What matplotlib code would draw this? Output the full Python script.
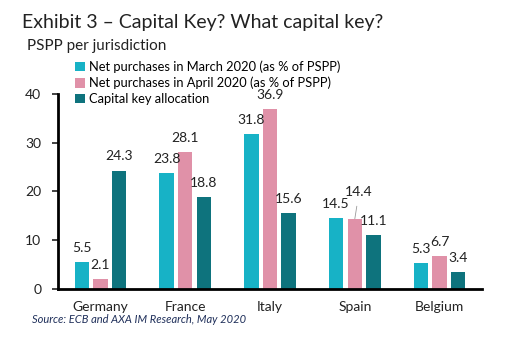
import numpy as np
import matplotlib.pyplot as plt

countries = ['Germany', 'France', 'Italy', 'Spain', 'Belgium']
march = [5.5, 23.8, 31.8, 14.5, 5.3]
april = [2.1, 28.1, 36.9, 14.4, 6.7]
capital_key = [24.3, 18.8, 15.6, 11.1, 3.4]
series_names = ['Net purchases in March 2020 (as % of PSPP)',
                'Net purchases in April 2020 (as % of PSPP)',
                'Capital key allocation']
colors = ['#17B2C6', '#E091A8', '#0E737D']

plt.rcParams['font.family'] = ['Lato', 'DejaVu Sans']

fig = plt.figure(figsize=(5.09, 3.41), dpi=100)
ax = fig.add_axes([0.114, 0.1525, 0.833, 0.572])

x = np.arange(len(countries))
w = 0.17
off = 0.22
for i, (vals, name, c) in enumerate(zip([march, april, capital_key], series_names, colors)):
    pos = x + (i - 1) * off
    ax.bar(pos, vals, width=w, color=c, label=name)
    for j, (px, v) in enumerate(zip(pos, vals)):
        if i == 1 and countries[j] == 'Spain':
            # label pushed up with a leader line
            ax.annotate(f'{v}', xy=(px, v), xytext=(px + 0.05, v + 5.5),
                        ha='center', va='center', fontsize=10, color='#222222',
                        arrowprops=dict(arrowstyle='-', color='#999999', lw=0.6,
                                        shrinkA=4, shrinkB=0))
        else:
            ax.text(px, v + 2.9, f'{v}', ha='center', va='center',
                    fontsize=10, color='#222222')

ax.set_xlim(-0.5, 4.5)
ax.set_ylim(0, 40)
ax.set_yticks([0, 10, 20, 30, 40])
ax.set_xticks(x)
ax.set_xticklabels(countries)
ax.tick_params(axis='x', length=0, pad=9, labelsize=10, colors='#222222')
ax.tick_params(axis='y', length=4, width=1.2, pad=8, labelsize=10, colors='#222222')
for s in ['top', 'right']:
    ax.spines[s].set_visible(False)
ax.spines['left'].set_linewidth(2)
ax.spines['bottom'].set_linewidth(2)

leg = fig.legend(loc='upper left', bbox_to_anchor=(0.138, 0.838), frameon=False,
                 fontsize=9.3, handlelength=0.75, handleheight=0.75, handletextpad=0.3,
                 labelspacing=0.3, borderaxespad=0)

fig.text(0.043, 0.935, 'Exhibit 3 \u2013 Capital Key? What capital key?',
         fontsize=14, va='center', ha='left', color='#222222')
fig.text(0.053, 0.865, 'PSPP per jurisdiction', fontsize=11, va='center',
         ha='left', color='#222222')
fig.text(0.063, 0.062, 'Source: ECB and AXA IM Research, May 2020', fontsize=8,
         style='italic', va='center', ha='left', color='#1F2F5A')

fig.savefig('out.png', dpi=100)
